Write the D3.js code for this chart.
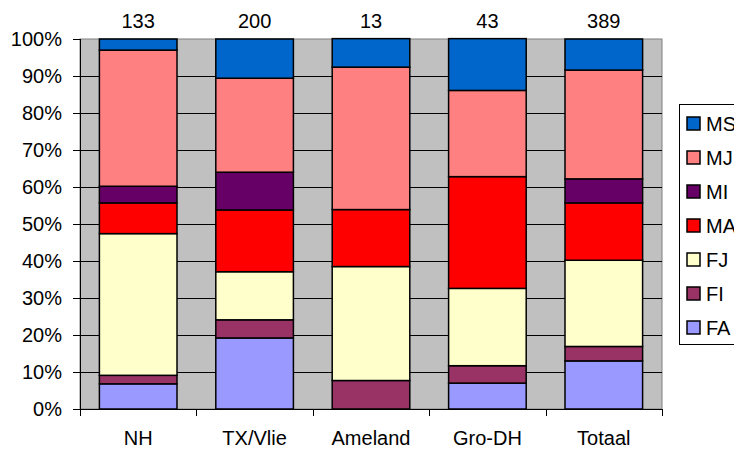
<!DOCTYPE html>
<html>
<head>
<meta charset="utf-8">
<script src="https://cdn.jsdelivr.net/npm/d3@7"></script>
<style>
  body { margin: 0; background: #fff; }
  svg { font-family: "Liberation Sans", Arial, sans-serif; }
</style>
</head>
<body>
<svg id="chart" width="734" height="450"></svg>
<script>
// categories and totals shown above the bars
var categories = ["NH", "TX/Vlie", "Ameland", "Gro-DH", "Totaal"];
var totals = [133, 200, 13, 43, 389];

// series in stacking order, bottom to top (percentages)
var seriesNames = ["FA", "FI", "FJ", "MA", "MI", "MJ", "MS"];
var FA = [6.8, 19.2, 0, 7.0, 13.0];
var FI = [2.3, 4.9, 7.7, 4.7, 3.9];
var FJ = [38.3, 13.0, 30.8, 20.9, 23.3];
var MA = [8.3, 16.7, 15.4, 30.2, 15.5];
var MI = [4.5, 10.2, 0, 0, 6.5];
var MJ = [36.8, 25.4, 38.5, 23.3, 29.4];
var MS = [3.0, 10.6, 7.7, 14.0, 8.4];
var colors = ["#9999FF", "#993366", "#FFFFCC", "#FF0000", "#660066", "#FF8080", "#0066CC"];

var yTicks = d3.range(0, 101, 10);

var svg = d3.select("#chart");
var margin = { left: 80, top: 39, right: 662, bottom: 409 };
var fontSize = 20;

var rows = categories.map(function (c, i) {
  return { cat: c, FA: FA[i], FI: FI[i], FJ: FJ[i], MA: MA[i], MI: MI[i], MJ: MJ[i], MS: MS[i] };
});

var x = d3.scaleBand()
  .domain(categories)
  .range([margin.left, margin.right])
  .paddingInner(1 / 3)
  .paddingOuter(1 / 6);

var y = d3.scaleLinear().domain([0, 100]).range([margin.bottom, margin.top]);

var color = d3.scaleOrdinal().domain(seriesNames).range(colors);

// plot background
svg.append("rect")
  .attr("x", margin.left)
  .attr("y", margin.top)
  .attr("width", margin.right - margin.left)
  .attr("height", margin.bottom - margin.top)
  .attr("fill", "#C0C0C0")
  .attr("stroke", "#808080")
  .attr("stroke-width", 1);

// gridlines
svg.append("g")
  .selectAll("line")
  .data(yTicks.slice(1, -1))
  .join("line")
  .attr("x1", margin.left)
  .attr("x2", margin.right)
  .attr("y1", function (d) { return Math.round(y(d)) + 0.5; })
  .attr("y2", function (d) { return Math.round(y(d)) + 0.5; })
  .attr("stroke", "#000")
  .attr("stroke-width", 1);

// stacked bars
var stack = d3.stack().keys(seriesNames)(rows);

svg.append("g")
  .selectAll("g")
  .data(stack)
  .join("g")
  .attr("fill", function (d) { return color(d.key); })
  .selectAll("rect")
  .data(function (d) { return d; })
  .join("rect")
  .filter(function (d) { return d[1] - d[0] > 0; })
  .attr("x", function (d) { return x(d.data.cat); })
  .attr("y", function (d) { return y(d[1]); })
  .attr("width", x.bandwidth())
  .attr("height", function (d) { return y(d[0]) - y(d[1]); })
  .attr("stroke", "#000")
  .attr("stroke-width", 1.5);

// y axis
var yAxis = svg.append("g")
  .attr("transform", "translate(" + margin.left + ",0)")
  .call(d3.axisLeft(y).tickValues(yTicks).tickFormat(function (d) { return d + "%"; }).tickSize(7).tickPadding(11));
yAxis.select(".domain").attr("d", "M0.5," + margin.top + "V" + (margin.bottom + 7));
yAxis.selectAll("text").attr("font-size", fontSize).attr("font-family", "Liberation Sans, Arial, sans-serif").attr("fill", "#000");

// x axis: ticks between categories
var step = x.step();
var boundaries = d3.range(0, categories.length + 1).map(function (i) { return margin.left + i * step; });
var xg = svg.append("g");
xg.append("line")
  .attr("x1", margin.left)
  .attr("x2", margin.right)
  .attr("y1", margin.bottom + 0.5)
  .attr("y2", margin.bottom + 0.5)
  .attr("stroke", "#000");
xg.selectAll("line.tick")
  .data(boundaries)
  .join("line")
  .attr("class", "tick")
  .attr("x1", function (d) { return Math.round(d) + 0.5; })
  .attr("x2", function (d) { return Math.round(d) + 0.5; })
  .attr("y1", margin.bottom)
  .attr("y2", margin.bottom + 7)
  .attr("stroke", "#000");
xg.selectAll("text")
  .data(categories)
  .join("text")
  .attr("x", function (d) { return x(d) + x.bandwidth() / 2; })
  .attr("y", 445)
  .attr("text-anchor", "middle")
  .attr("font-size", fontSize)
  .text(function (d) { return d; });

// totals on top
svg.append("g")
  .selectAll("text")
  .data(totals)
  .join("text")
  .attr("x", function (d, i) { return x(categories[i]) + x.bandwidth() / 2; })
  .attr("y", 28)
  .attr("text-anchor", "middle")
  .attr("font-size", fontSize)
  .text(function (d) { return d; });

// legend (top series first)
var legendItems = seriesNames.slice().reverse();
var legend = svg.append("g");
legend.append("rect")
  .attr("x", 679.5)
  .attr("y", 104.5)
  .attr("width", 80)
  .attr("height", 240)
  .attr("fill", "#fff")
  .attr("stroke", "#000");
var entry = legend.selectAll("g.legendEntry")
  .data(legendItems)
  .join("g")
  .attr("class", "legendEntry")
  .attr("transform", function (d, i) { return "translate(687," + (117 + i * 34) + ")"; });
entry.append("rect")
  .attr("width", 13)
  .attr("height", 13)
  .attr("fill", function (d) { return color(d); })
  .attr("stroke", "#000")
  .attr("stroke-width", 1.5);
entry.append("text")
  .attr("x", 19)
  .attr("y", 14)
  .attr("font-size", fontSize)
  .text(function (d) { return d; });
</script>
</body>
</html>
